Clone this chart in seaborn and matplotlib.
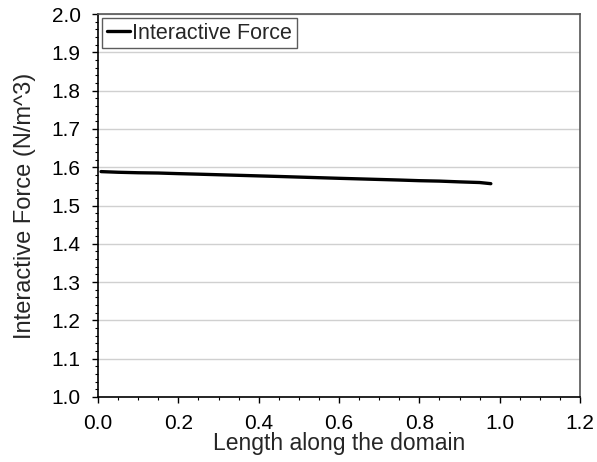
import matplotlib
matplotlib.use("Agg")
import matplotlib.pyplot as plt
import seaborn as sns
import pandas as pd
from matplotlib.ticker import MultipleLocator, FormatStrFormatter

length = [0.0075, 0.05, 0.10, 0.15, 0.20, 0.25, 0.30, 0.35, 0.40, 0.45, 0.50,
          0.55, 0.60, 0.65, 0.70, 0.75, 0.80, 0.85, 0.90, 0.95, 0.978]
force = [1.5885, 1.5868, 1.5855, 1.5848, 1.5832, 1.5818, 1.5803, 1.5788, 1.5773,
         1.5758, 1.5742, 1.5726, 1.5710, 1.5695, 1.5680, 1.5665, 1.5648, 1.5637,
         1.5617, 1.5600, 1.5570]
series_name = "Interactive Force"

df = pd.DataFrame({"Length": length, "Force": force, "Series": series_name})

sns.set_theme(style="white")
plt.rcParams["font.family"] = ["Liberation Sans", "DejaVu Sans"]

fig = plt.figure(figsize=(5.97, 4.62), dpi=100)
ax = fig.add_axes([98/597, 1-397/462, (580-98)/597, (397-14)/462])

sns.lineplot(data=df, x="Length", y="Force", hue="Series", palette=["black"],
             linewidth=2.4, ax=ax)

ax.set_xlim(0, 1.2)
ax.set_ylim(1.0, 2.0)
ax.xaxis.set_major_locator(MultipleLocator(0.2))
ax.xaxis.set_minor_locator(MultipleLocator(0.05))
ax.yaxis.set_major_locator(MultipleLocator(0.1))
ax.yaxis.set_minor_locator(MultipleLocator(0.02))
ax.xaxis.set_major_formatter(FormatStrFormatter("%.1f"))
ax.yaxis.set_major_formatter(FormatStrFormatter("%.1f"))
ax.tick_params(axis="both", which="major", direction="out", length=4, width=1,
               color="black", labelsize=15, labelcolor="black", pad=8.5,
               bottom=True, left=True)
ax.tick_params(axis="both", which="minor", direction="out", length=2.5, width=0.8,
               color="black", bottom=True, left=True)

ax.grid(axis="y", which="major", color="#d0d0d0", linewidth=1)
ax.grid(axis="x", visible=False)

for s in ["left", "bottom"]:
    ax.spines[s].set_color("black")
    ax.spines[s].set_linewidth(1.2)
for s in ["top", "right"]:
    ax.spines[s].set_color("#555555")
    ax.spines[s].set_linewidth(1.2)

ax.set_xlabel("Length along the domain", fontsize=16.5, labelpad=-1)
ax.set_ylabel("Interactive Force (N/m^3)", fontsize=17, labelpad=11)

leg = ax.legend(loc="upper left", fontsize=15.5, frameon=True, fancybox=False,
                edgecolor="#333333", handlelength=1.1, handletextpad=0.1,
                borderpad=0.2, borderaxespad=0.2)
leg.get_frame().set_linewidth(1.0)
leg.set_title(None)

fig.savefig("out.png", dpi=100)
